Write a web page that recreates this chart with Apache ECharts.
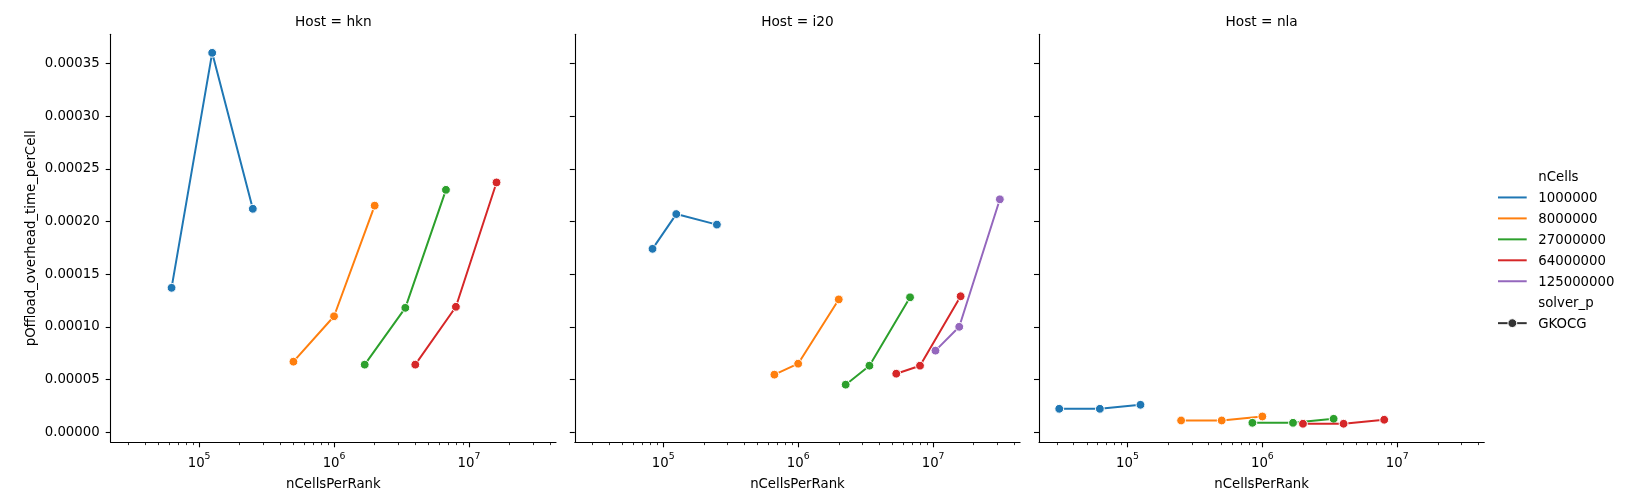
<!DOCTYPE html>
<html>
<head>
<meta charset="utf-8">
<script src="https://cdn.jsdelivr.net/npm/echarts@6/dist/echarts.min.js"></script>
<style>
html,body{margin:0;padding:0;background:#fff;}
#chart{width:1628px;height:500px;}
</style>
</head>
<body>
<div id="chart"></div>
<script>
// ---------- data ----------
const hosts = ['hkn', 'i20', 'nla'];
const nCellsLevels = [1000000, 8000000, 27000000, 64000000, 125000000];
const solverNames = ['GKOCG'];

const hkn_nCellsPerRank = [
  [62500, 125000, 250000],
  [500000, 1000000, 2000000],
  [1687500, 3375000, 6750000],
  [4000000, 8000000, 16000000]
];
const hkn_overhead = [
  [1.37e-4, 3.60e-4, 2.12e-4],
  [6.69e-5, 1.10e-4, 2.15e-4],
  [6.41e-5, 1.18e-4, 2.30e-4],
  [6.41e-5, 1.19e-4, 2.37e-4]
];
const i20_nCellsPerRank = [
  [83333, 125000, 250000],
  [666667, 1000000, 2000000],
  [2250000, 3375000, 6750000],
  [5333333, 8000000, 16000000],
  [10416667, 15625000, 31250000]
];
const i20_overhead = [
  [1.74e-4, 2.07e-4, 1.97e-4],
  [5.46e-5, 6.50e-5, 1.26e-4],
  [4.51e-5, 6.31e-5, 1.28e-4],
  [5.55e-5, 6.31e-5, 1.29e-4],
  [7.74e-5, 1.00e-4, 2.21e-4]
];
const nla_nCellsPerRank = [
  [31250, 62500, 125000],
  [250000, 500000, 1000000],
  [843750, 1687500, 3375000],
  [2000000, 4000000, 8000000]
];
const nla_overhead = [
  [2.22e-5, 2.22e-5, 2.60e-5],
  [1.11e-5, 1.11e-5, 1.49e-5],
  [8.9e-6, 8.9e-6, 1.27e-5],
  [8.0e-6, 8.0e-6, 1.18e-5]
];
const xMajorExponents = [5, 6, 7];
const yTickValues = [0, 0.00005, 0.0001, 0.00015, 0.0002, 0.00025, 0.0003, 0.00035];

// ---------- styling ----------
const palette = ['#1f77b4', '#ff7f0e', '#2ca02c', '#d62728', '#9467bd'];
const FONT = '"DejaVu Sans", "Liberation Sans", sans-serif';
const FS = 13.3;
const hostX = [hkn_nCellsPerRank, i20_nCellsPerRank, nla_nCellsPerRank];
const hostY = [hkn_overhead, i20_overhead, nla_overhead];

// extents (5% margins like matplotlib)
let allLx = [], allY = [];
hostX.forEach(g => g.forEach(a => a.forEach(v => allLx.push(Math.log10(v)))));
hostY.forEach(g => g.forEach(a => a.forEach(v => allY.push(v))));
const lxMin0 = Math.min(...allLx), lxMax0 = Math.max(...allLx);
const yMin0 = Math.min(...allY), yMax0 = Math.max(...allY);
const xMin = lxMin0 - 0.05 * (lxMax0 - lxMin0), xMax = lxMax0 + 0.05 * (lxMax0 - lxMin0);
const yMin = yMin0 - 0.05 * (yMax0 - yMin0), yMax = yMax0 + 0.05 * (yMax0 - yMin0);

// minor log ticks
const minorTicks = [];
for (let e = Math.floor(xMin); e <= Math.ceil(xMax); e++) {
  for (let k = 2; k <= 9; k++) {
    const v = e + Math.log10(k);
    if (v >= xMin && v <= xMax) minorTicks.push(v);
  }
}

const gridLefts = [110.7, 574.8, 1039];
const gridW = 445.3, gridTop = 34.3, gridH = 408;

const grids = [], xAxes = [], yAxes = [], titles = [], series = [];
hosts.forEach((h, hi) => {
  grids.push({left: gridLefts[hi], top: gridTop, width: gridW, height: gridH, containLabel: false});
  titles.push({
    text: 'Host = ' + h, left: gridLefts[hi] + gridW / 2, top: 15.5, textAlign: 'center', padding: 0,
    textStyle: {fontFamily: FONT, fontSize: 13.7, fontWeight: 'normal', color: '#000'}
  });
  xAxes.push({
    type: 'value', gridIndex: hi, min: xMin, max: xMax, position: 'bottom',
    name: 'nCellsPerRank', nameLocation: 'middle', nameGap: 35.5,
    nameTextStyle: {fontFamily: FONT, fontSize: FS, color: '#000'},
    axisLine: {show: true, onZero: false, lineStyle: {color: '#000', width: 1.1}},
    axisTick: {show: true, length: 5, lineStyle: {color: '#000', width: 1.1}, customValues: xMajorExponents},
    axisLabel: {
      show: true, margin: 10, customValues: xMajorExponents,
      formatter: v => '{b|10}{s|' + Math.round(v) + '}',
      rich: {
        b: {fontFamily: FONT, fontSize: FS, color: '#000', lineHeight: 18, verticalAlign: 'bottom'},
        s: {fontFamily: FONT, fontSize: 9.3, color: '#000', lineHeight: 10, verticalAlign: 'top'}
      }
    },
    splitLine: {show: false}
  });
  xAxes.push({
    type: 'value', gridIndex: hi, min: xMin, max: xMax, position: 'bottom',
    axisLine: {show: false, onZero: false},
    axisTick: {show: true, length: 2.8, lineStyle: {color: '#000', width: 0.8}, customValues: minorTicks},
    axisLabel: {show: false},
    splitLine: {show: false}
  });
  yAxes.push({
    type: 'value', gridIndex: hi, min: yMin, max: yMax,
    name: hi === 0 ? 'pOffload_overhead_time_perCell' : '', nameLocation: 'middle', nameGap: 73,
    nameTextStyle: {fontFamily: FONT, fontSize: FS, color: '#000'},
    axisLine: {show: true, onZero: false, lineStyle: {color: '#000', width: 1.1}},
    axisTick: {show: true, length: 5, lineStyle: {color: '#000', width: 1.1}, customValues: yTickValues},
    axisLabel: {
      show: hi === 0, margin: 11, customValues: yTickValues,
      fontFamily: FONT, fontSize: FS, color: '#000',
      formatter: v => v.toFixed(5)
    },
    splitLine: {show: false}
  });
  hostX[hi].forEach((xs, gi) => {
    series.push({
      type: 'line', name: String(nCellsLevels[gi]),
      xAxisIndex: 2 * hi, yAxisIndex: hi,
      data: xs.map((x, i) => [Math.log10(x), hostY[hi][gi][i]]),
      symbol: 'circle', symbolSize: 8.8, showSymbol: true,
      lineStyle: {color: palette[gi], width: 2},
      itemStyle: {color: palette[gi], borderColor: '#fff', borderWidth: 1},
      emphasis: {disabled: true},
      z: 2 + gi
    });
  });
});

// legend drawn with graphic elements
const legX0 = 1498, legX1 = 1526.7, legTextX = 1538.3;
const rowY0 = 177.5, rowStep = 20.95;
const legendEls = [];
let row = 0;
const addText = (t, y) => legendEls.push({
  type: 'text', silent: true,
  style: {text: t, x: legTextX, y: y, fill: '#000', font: FS + 'px ' + FONT, verticalAlign: 'middle', align: 'left'}
});
addText('nCells', rowY0 + rowStep * row); row++;
nCellsLevels.forEach((n, i) => {
  const y = rowY0 + rowStep * row;
  legendEls.push({type: 'line', silent: true, shape: {x1: legX0, y1: y - 1, x2: legX1, y2: y - 1}, style: {stroke: palette[i], lineWidth: 2}});
  addText(String(n), y); row++;
});
addText('solver_p', rowY0 + rowStep * row); row++;
solverNames.forEach(s => {
  const y = rowY0 + rowStep * row;
  legendEls.push({type: 'line', silent: true, shape: {x1: legX0, y1: y - 1, x2: legX1, y2: y - 1}, style: {stroke: '#333333', lineWidth: 2}});
  legendEls.push({type: 'circle', silent: true, shape: {cx: (legX0 + legX1) / 2, cy: y - 1, r: 4.4}, style: {fill: '#333333', stroke: '#fff', lineWidth: 1}});
  addText(s, y); row++;
});

const chart = echarts.init(document.getElementById('chart'), null, {renderer: 'canvas'});
chart.setOption({
  animation: false,
  backgroundColor: '#fff',
  title: titles,
  grid: grids,
  xAxis: xAxes,
  yAxis: yAxes,
  series: series,
  graphic: legendEls
});
</script>
</body>
</html>
